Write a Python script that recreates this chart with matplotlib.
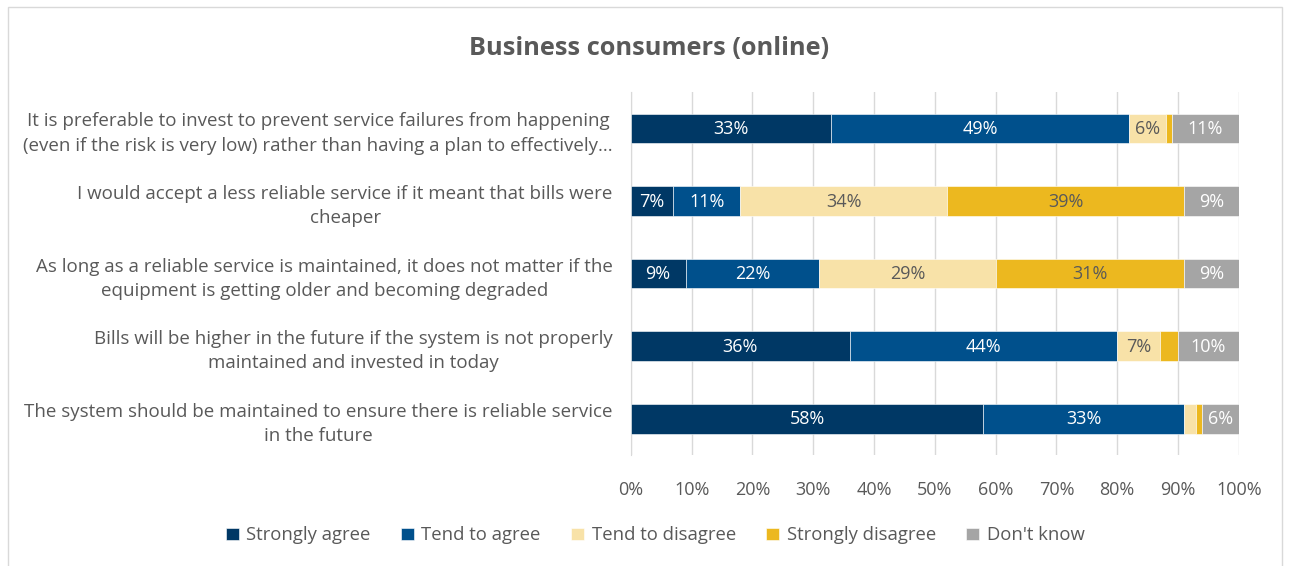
import matplotlib.pyplot as plt
from matplotlib.patches import Rectangle
import numpy as np

plt.rcParams['font.family'] = ['Open Sans', 'DejaVu Sans']

statements = [
    "It is preferable to invest to prevent service failures from happening\n(even if the risk is very low) rather than having a plan to effectively...",
    "I would accept a less reliable service if it meant that bills were\ncheaper",
    "As long as a reliable service is maintained, it does not matter if the\nequipment is getting older and becoming degraded",
    "Bills will be higher in the future if the system is not properly\nmaintained and invested in today",
    "The system should be maintained to ensure there is reliable service\nin the future",
]
responses = ["Strongly agree", "Tend to agree", "Tend to disagree", "Strongly disagree", "Don't know"]

strongly_agree = [33, 7, 9, 36, 58]
tend_agree = [49, 11, 22, 44, 33]
tend_disagree = [6, 34, 29, 7, 2]
strongly_disagree = [1, 39, 31, 3, 1]
dont_know = [11, 9, 9, 10, 6]

colors = ["#003865", "#00508c", "#f8e2a8", "#ecb81f", "#a5a5a5"]
label_colors = ["white", "white", "#595959", "#595959", "white"]
text_col = "#595959"

series = [strongly_agree, tend_agree, tend_disagree, strongly_disagree, dont_know]

fig = plt.figure(figsize=(12.9, 5.66), dpi=100)
ax = fig.add_axes([0.489, 0.196, 0.4713, 0.6413])

y = np.arange(len(statements))
left = np.zeros(len(statements))
for vals, name, c, lc in zip(series, responses, colors, label_colors):
    vals = np.array(vals, dtype=float)
    bars = ax.barh(y, vals, left=left, height=0.41, color=c, label=name,
                   edgecolor="white", linewidth=0.4, zorder=3)
    for b, v in zip(bars, vals):
        if v >= 4:
            ax.text(b.get_x() + b.get_width() / 2, b.get_y() + b.get_height() / 2 + 0.01,
                    f"{v:.0f}%", ha="center", va="center", color=lc, fontsize=13, zorder=4)
    left += vals

ax.set_xlim(0, 100)
ax.set_ylim(len(statements) - 0.5, -0.5)
ax.set_xticks(np.arange(0, 101, 10))
ax.set_xticklabels([f"{t}%" for t in range(0, 101, 10)])
ax.set_yticks(y)
ax.set_yticklabels(statements, multialignment="center", linespacing=1.45)
ax.tick_params(axis="x", length=0, pad=19, labelsize=13, labelcolor=text_col)
ax.tick_params(axis="y", length=0, pad=13, labelsize=13.5, labelcolor=text_col)
ax.grid(axis="x", color="#d9d9d9", linewidth=1, zorder=0)
for s in ["top", "right", "bottom"]:
    ax.spines[s].set_visible(False)
ax.spines["left"].set_color("#d9d9d9")

fig.suptitle("Business consumers (online)", x=0.503, y=0.937, fontsize=18.3,
             fontweight="bold", color=text_col)

handles, labels = ax.get_legend_handles_labels()
fig.legend(handles, labels, loc="center", bbox_to_anchor=(0.508, 0.054), ncol=5,
           frameon=False, fontsize=13.3, labelcolor=text_col, handlelength=0.7,
           handleheight=0.7, handletextpad=0.4, columnspacing=1.65)

# light frame around the chart area
fig.patches.append(Rectangle((0.006, -0.05), 0.988, 1.037, transform=fig.transFigure,
                             fill=False, edgecolor="#d9d9d9", linewidth=1))

fig.savefig("out.png", dpi=100)
